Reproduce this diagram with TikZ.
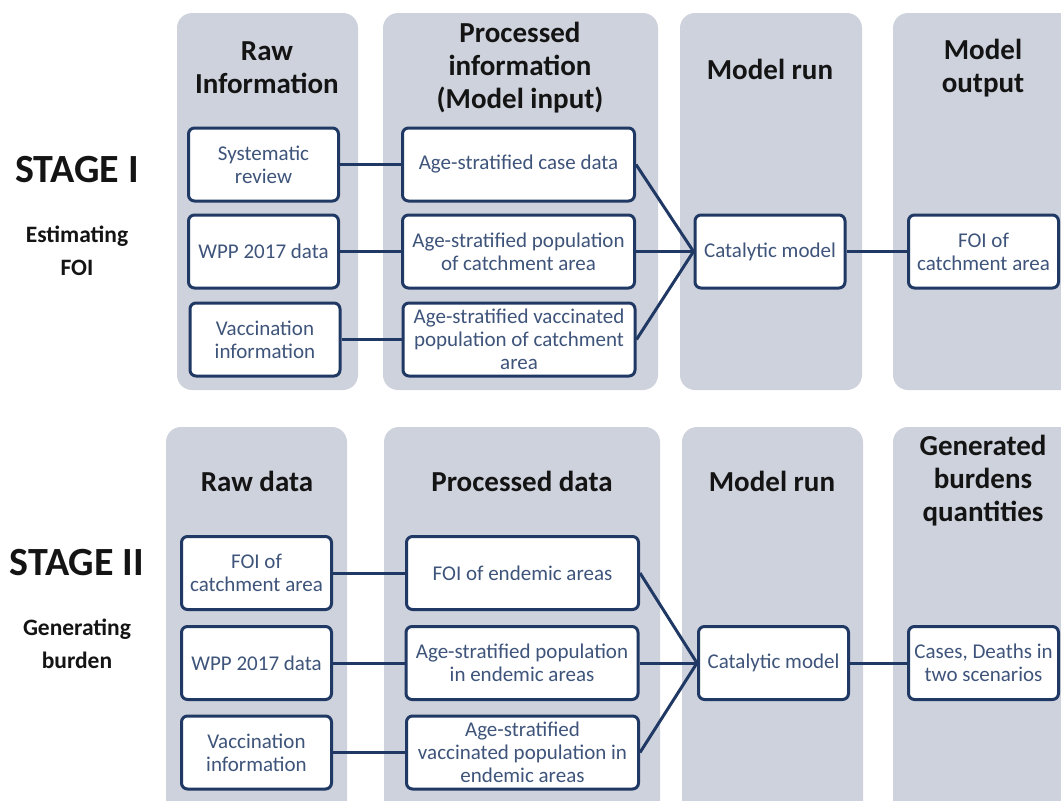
\documentclass[tikz,border=0pt]{standalone}
\usepackage{fontspec}
\setmainfont{Carlito}
\usetikzlibrary{positioning}
\definecolor{panelgray}{RGB}{206,210,220}
\definecolor{boxline}{RGB}{31,56,100}
\definecolor{boxtext}{RGB}{62,84,122}
\definecolor{headtext}{RGB}{20,20,20}

\begin{document}
\begin{tikzpicture}[x=1pt, y=-1pt,
    panel/.style={fill=panelgray, rounded corners=15pt},
    box/.style={draw=boxline, line width=3pt, fill=white, rounded corners=6pt,
        align=center, text=boxtext, inner sep=1pt,
        font=\fontsize{21}{23}\selectfont},
    smallbox/.style={box, minimum width=150pt, minimum height=73pt},
    widebox/.style={box, minimum width=232pt, minimum height=73pt},
    head/.style={font=\bfseries\fontsize{29}{33}\selectfont, align=center, text=headtext},
    stagelabel/.style={font=\bfseries\fontsize{40}{42}\selectfont, text=headtext},
    stagesub/.style={font=\bfseries\fontsize{23.5}{33}\selectfont, align=center, text=headtext},
    link/.style={draw=boxline, line width=3pt}]

    \useasboundingbox (0,0) rectangle (1061,801);

    % Column panels
    \foreach \xa/\xb in {177/358, 383/658, 680/862, 893/1090} {
        \fill[panel] (\xa, 13) rectangle (\xb, 390);
    }
    \foreach \xa/\xb in {166/347, 384/660, 682/863, 893/1090} {
        \fill[panel] (\xa, 427) rectangle (\xb, 830);
    }

    % Stage labels
    \node[stagelabel] (stageone) at (77,170) {STAGE I};
    \node[stagesub] (stageonesub) at (77,251) {Estimating\\FOI};
    \node[stagelabel] (stagetwo) at (77,563) {STAGE II};
    \node[stagesub] (stagetwosub) at (77,644) {Generating\\burden};

    % Stage I headers
    \node[head] (rawinfo) at (267,68) {Raw\\Information};
    \node[head] (procinfo) at (520,68) {Processed\\information\\(Model input)};
    \node[head] (runone) at (770,69) {Model run};
    \node[head] (outone) at (983,68) {Model\\output};

    % Stage I boxes
    \node[smallbox] (sysrev) at (263.5,164.5) {Systematic\\review};
    \node[smallbox] (wppone) at (263.5,251.5) {WPP 2017 data};
    \node[smallbox] (vaccone) at (265,339.5) {Vaccination\\information};
    \node[widebox] (casedata) at (518.5,164.5) {Age-stratified case data};
    \node[widebox] (popone) at (518.5,251.5) {Age-stratified population\\of catchment area};
    \node[widebox] (vpopone) at (519,339.5) {Age-stratified vaccinated\\population of catchment\\area};
    \node[smallbox] (catone) at (770,251.5) {Catalytic model};
    \node[smallbox] (foione) at (983.5,251.5) {FOI of\\catchment area};

    % Stage I links
    \draw[link] (sysrev.east) -- (casedata.west);
    \draw[link] (wppone.east) -- (popone.west);
    \draw[link] (vaccone.east) -- (vpopone.west);
    \draw[link] (casedata.east) -- (catone.west);
    \draw[link] (popone.east) -- (catone.west);
    \draw[link] (vpopone.east) -- (catone.west);
    \draw[link] (catone.east) -- (foione.west);

    % Stage II headers
    \node[head] (rawdata) at (257,481) {Raw data};
    \node[head] (procdata) at (522,481) {Processed data};
    \node[head] (runtwo) at (772,481) {Model run};
    \node[head] (outtwo) at (983,481) {Generated\\burdens\\quantities};

    % Stage II boxes
    \node[smallbox] (foitwo) at (256.5,573) {FOI of\\catchment area};
    \node[smallbox] (wpptwo) at (256.5,663) {WPP 2017 data};
    \node[smallbox] (vacctwo) at (256.5,752.5) {Vaccination\\information};
    \node[widebox] (endemic) at (522.5,573) {FOI of endemic areas};
    \node[widebox] (poptwo) at (522,663) {Age-stratified population\\in endemic areas};
    \node[widebox] (vpoptwo) at (522.5,752.5) {Age-stratified\\vaccinated population in\\endemic areas};
    \node[smallbox] (cattwo) at (773.5,663) {Catalytic model};
    \node[smallbox] (burden) at (983.5,663) {Cases, Deaths in\\two scenarios};

    % Stage II links
    \draw[link] (foitwo.east) -- (endemic.west);
    \draw[link] (wpptwo.east) -- (poptwo.west);
    \draw[link] (vacctwo.east) -- (vpoptwo.west);
    \draw[link] (endemic.east) -- (cattwo.west);
    \draw[link] (poptwo.east) -- (cattwo.west);
    \draw[link] (vpoptwo.east) -- (cattwo.west);
    \draw[link] (cattwo.east) -- (burden.west);

\end{tikzpicture}
\end{document}
